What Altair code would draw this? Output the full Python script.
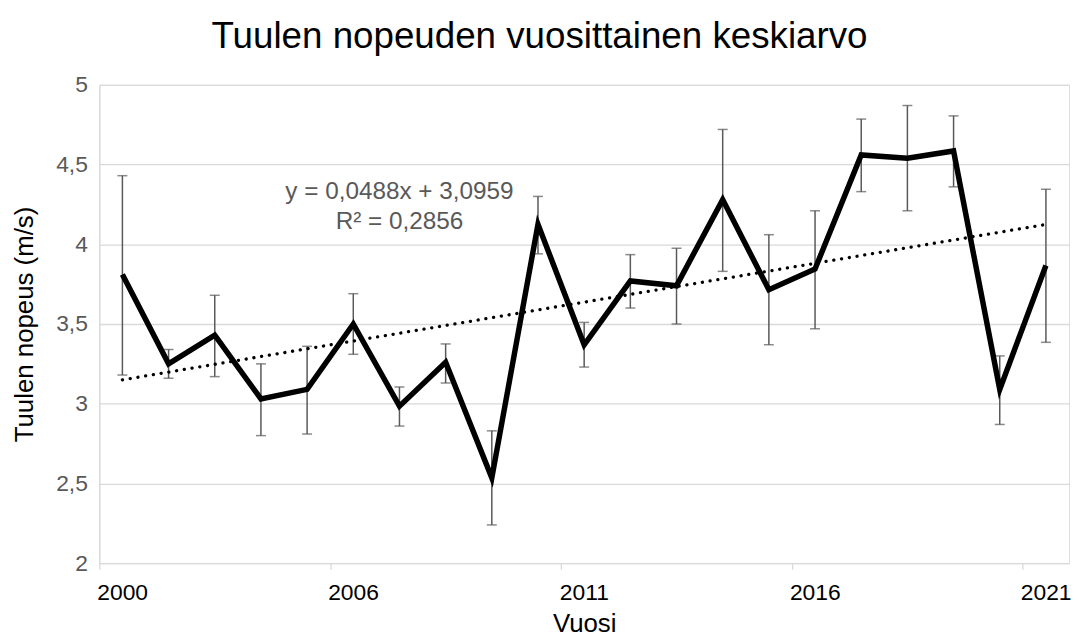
import altair as alt
import pandas as pd

# Categories (2005 is missing in the source series)
years = [2000, 2001, 2002, 2003, 2004, 2006, 2007, 2008, 2009, 2010, 2011,
         2012, 2013, 2014, 2015, 2016, 2017, 2018, 2019, 2020, 2021]
mean = [3.81, 3.25, 3.43, 3.03, 3.09, 3.50, 2.985, 3.26, 2.535, 4.125, 3.37,
        3.77, 3.74, 4.28, 3.715, 3.845, 4.56, 4.54, 4.585, 3.09, 3.867]
upper = [4.43, 3.34, 3.68, 3.25, 3.36, 3.69, 3.105, 3.375, 2.83, 4.30, 3.51,
         3.935, 3.975, 4.72, 4.06, 4.21, 4.785, 4.87, 4.805, 3.30, 4.345]
lower = [3.18, 3.16, 3.17, 2.80, 2.81, 3.31, 2.86, 3.13, 2.24, 3.94, 3.23,
         3.60, 3.50, 3.83, 3.37, 3.47, 4.33, 4.21, 4.36, 2.87, 3.385]

y_ticks = [2, 2.5, 3, 3.5, 4, 4.5, 5]
label_every = 5

eq_lines = ["y = 0,0488x + 3,0959", "R² = 0,2856"]
eq_x = [6.0, 6.0]
eq_y = [4.33, 4.14]

df = pd.DataFrame({"i": list(range(len(years))), "year": years,
                   "mean": mean, "upper": upper, "lower": lower})
eq_df = pd.DataFrame({"t": eq_lines, "x": eq_x, "y": eq_y})

FONT = "Liberation Sans"
n = len(years)
tick_vals = [k - 0.5 for k in range(0, n, label_every)]
year_arr = "[" + ",".join("'%d'" % y for y in years) + "]"

xscale = alt.Scale(domain=[-0.5, n - 0.5], nice=False, zero=False)
yscale = alt.Scale(domain=[2, 5], nice=False, zero=False)

xaxis = alt.Axis(values=tick_vals, labelExpr=year_arr + "[datum.value + 0.5]",
                 labelOffset=23, grid=False, domain=False, ticks=True,
                 tickColor="#d9d9d9", tickWidth=1.3, tickSize=6,
                 labelFont=FONT, labelFontSize=23, labelColor="#000000",
                 labelPadding=13, title="Vuosi", titleFont=FONT,
                 titleFontSize=26, titleFontWeight="normal", titleColor="#000000",
                 titlePadding=6, labelFlush=False, labelOverlap=False)
yaxis = alt.Axis(values=y_ticks,
                 labelExpr="replace(format(datum.value, ''), '.', ',')",
                 grid=True, gridColor="#d9d9d9", gridWidth=1.3,
                 domain=True, domainColor="#d9d9d9", domainWidth=1.3,
                 ticks=False, tickSize=0, labelPadding=12,
                 labelFont=FONT, labelFontSize=23, labelColor="#595959",
                 title="Tuulen nopeus (m/s)", titleFont=FONT, titleFontSize=26,
                 titleFontWeight="normal", titleColor="#000000", titlePadding=18)

base = alt.Chart(df)

err = base.mark_rule(color="#595959", strokeWidth=1.5).encode(
    x=alt.X("i:Q", scale=xscale, axis=xaxis),
    y=alt.Y("lower:Q", scale=yscale, axis=yaxis),
    y2="upper:Q")
cap_top = base.mark_tick(orient="horizontal", size=10, thickness=1.5,
                         color="#595959").encode(
    x=alt.X("i:Q", scale=xscale), y=alt.Y("upper:Q", scale=yscale))
cap_bot = base.mark_tick(orient="horizontal", size=10, thickness=1.5,
                         color="#595959").encode(
    x=alt.X("i:Q", scale=xscale), y=alt.Y("lower:Q", scale=yscale))
trend = base.transform_regression("i", "mean").mark_line(
    color="#000000", strokeWidth=3.3, strokeDash=[0.1, 7.8], strokeCap="round").encode(
    x=alt.X("i:Q", scale=xscale), y=alt.Y("mean:Q", scale=yscale))
line = base.mark_line(color="#000000", strokeWidth=5.5).encode(
    x=alt.X("i:Q", scale=xscale), y=alt.Y("mean:Q", scale=yscale))
eq = alt.Chart(eq_df).mark_text(font=FONT, fontSize=24.5, color="#595959",
                                baseline="middle", align="center").encode(
    x=alt.X("x:Q", scale=xscale), y=alt.Y("y:Q", scale=yscale), text="t:N")

chart = alt.layer(err, cap_top, cap_bot, trend, line, eq).properties(
    width=977, height=482,
    title=alt.TitleParams("Tuulen nopeuden vuosittainen keskiarvo", font=FONT,
                          fontSize=37, fontWeight="normal", color="#000000",
                          anchor="middle", dx=-45, offset=18),
    autosize=alt.AutoSizeParams(type="none"),
    padding={"left": 92, "top": 75, "right": 2, "bottom": 74},
).configure_view(stroke=None).configure(background="white")

chart.save("out.html", embed_options={"renderer": "svg", "actions": False})
